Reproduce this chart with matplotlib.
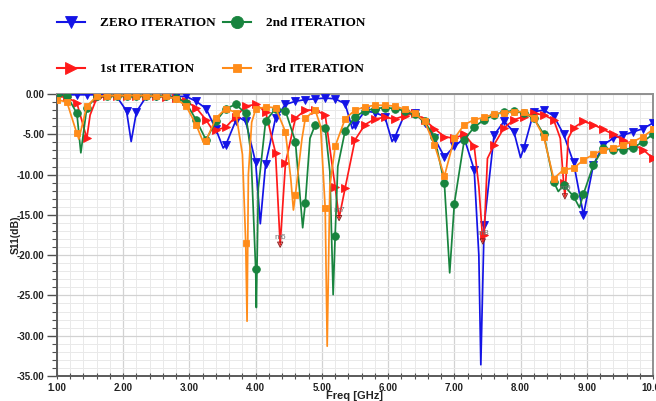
import matplotlib.pyplot as plt
import numpy as np
from matplotlib.lines import Line2D
from matplotlib.ticker import FormatStrFormatter, MultipleLocator

plt.rcParams["font.family"] = ["Liberation Sans", "DejaVu Sans"]

# frequency points where the solver placed a trace marker (every 0.15 GHz)
GRID_GHZ = np.round(1.0 + 0.15 * np.arange(61), 2)

# S11 (dB) of each iteration at the marker frequencies
zero_db = [-0.1, -0.1, -0.1, -0.1, -0.1, -0.1, -0.3, -2.1, -2.2, -0.3,
           -0.3, -0.3, -0.3, -0.3, -0.9, -1.8, -4.4, -6.3, -3.3, -3.4,
           -8.5, -8.7, -3.0, -1.3, -0.9, -0.7, -0.6, -0.5, -0.6, -1.2,
           -3.8, -2.1, -2.3, -2.8, -5.4, -2.5, -2.3, -3.6, -5.5, -7.8,
           -6.5, -5.5, -9.4, -16.3, -5.1, -3.4, -4.7, -6.7, -2.2, -2.0,
           -2.7, -5.0, -8.5, -15.0, -8.8, -6.3, -5.5, -5.1, -4.7, -4.3,
           -3.6]
first_db = [-0.3, -0.4, -1.1, -5.5, -0.5, -0.3, -0.3, -0.3, -0.3, -0.3,
            -0.3, -0.4, -0.5, -0.9, -1.7, -3.2, -4.5, -4.1, -2.8, -1.5,
            -1.3, -2.2, -7.3, -8.6, -3.0, -2.0, -2.0, -2.6, -11.5, -11.7,
            -5.7, -3.8, -3.1, -2.9, -3.1, -2.7, -2.4, -3.2, -4.3, -5.3,
            -5.5, -5.0, -6.5, -17.5, -6.3, -4.2, -3.2, -2.8, -2.4, -2.6,
            -3.2, -11.0, -4.2, -3.4, -3.8, -4.4, -5.0, -5.7, -6.3, -6.9,
            -8.0]
second_db = [-0.1, -0.2, -2.4, -1.7, -0.3, -0.2, -0.2, -0.2, -0.2, -0.2,
             -0.2, -0.3, -0.5, -1.1, -3.2, -5.7, -3.4, -1.8, -1.3, -2.4,
             -21.7, -3.4, -1.8, -2.1, -5.9, -13.5, -3.8, -4.2, -17.6, -4.6,
             -2.8, -2.1, -1.8, -1.7, -1.8, -2.1, -2.5, -3.4, -5.3, -11.1,
             -13.6, -5.7, -4.1, -3.2, -2.6, -2.2, -2.1, -2.4, -3.0, -5.0,
             -10.9, -11.3, -12.7, -12.4, -8.8, -6.7, -6.9, -6.9, -6.7, -5.9,
             -5.0]
third_db = [-0.7, -1.0, -4.9, -1.5, -0.3, -0.2, -0.2, -0.2, -0.2, -0.2,
            -0.3, -0.3, -0.6, -1.5, -3.8, -5.8, -3.0, -1.8, -2.3, -18.5,
            -1.9, -1.6, -1.7, -4.7, -12.5, -3.0, -2.0, -14.2, -6.5, -3.1,
            -2.0, -1.6, -1.4, -1.4, -1.5, -1.9, -2.4, -3.4, -6.3, -10.2,
            -5.5, -3.8, -3.2, -2.9, -2.5, -2.3, -2.2, -2.2, -3.0, -5.3,
            -10.5, -9.4, -9.2, -8.2, -7.5, -6.9, -6.7, -6.3, -5.9, -5.3,
            -4.4]

# extra sweep points between markers (resonance dips)
zero_dip_ghz = [2.12, 3.51, 3.77, 4.07, 5.46, 6.06, 7.37, 7.40, 8.00]
zero_dip_db = [-5.9, -6.7, -3.0, -16.1, -4.3, -5.9, -20.0, -33.6, -7.9]
first_dip_ghz = [1.50, 3.36, 4.37, 5.26, 7.37, 7.43, 7.50, 8.60, 8.67, 8.72]
first_dip_db = [-2.6, -4.6, -18.7, -15.4, -11.5, -18.3, -8.0, -5.5, -12.7, -5.5]
second_dip_ghz = [1.36, 3.93, 4.01, 4.04, 4.71, 4.82, 5.12, 5.17, 5.24, 6.93, 8.57, 8.89]
second_dip_db = [-7.3, -7.5, -26.5, -11.7, -16.6, -5.5, -9.6, -24.9, -9.0, -22.2, -12.1, -14.1]
third_dip_ghz = [1.33, 3.21, 3.80, 3.87, 3.89, 3.94, 4.53, 4.57, 4.70, 4.98, 5.08, 5.12]
third_dip_db = [-5.6, -6.0, -7.5, -28.2, -10.0, -3.5, -10.5, -14.4, -5.5, -4.0, -31.3, -11.5]

# HFSS marker readouts
marker_names = ["m6", "m7", "m8", "m9"]
marker_ghz = [4.37, 5.26, 7.43, 8.67]
marker_db = [-18.7, -15.4, -18.3, -12.7]


def build_trace(grid_db, dip_ghz, dip_db):
    freq = np.concatenate([GRID_GHZ, dip_ghz])
    s11 = np.concatenate([grid_db, dip_db])
    marked = np.concatenate([np.ones(len(GRID_GHZ), bool), np.zeros(len(dip_ghz), bool)])
    order = np.argsort(freq, kind="stable")
    return freq[order], s11[order], marked[order]


traces = [
    ("ZERO ITERATION", zero_db, zero_dip_ghz, zero_dip_db, "#1414e6", "v", 5.5),
    ("1st ITERATION", first_db, first_dip_ghz, first_dip_db, "#ff1a1a", ">", 5.5),
    ("2nd ITERATION", second_db, second_dip_ghz, second_dip_db, "#18843e", "o", 5.5),
    ("3rd ITERATION", third_db, third_dip_ghz, third_dip_db, "#ff8c1a", "s", 4.0),
]

fig = plt.figure(figsize=(6.56, 4.01), dpi=100)
ax = fig.add_axes([57 / 656, 25 / 401, 596 / 656, 282 / 401])

handles = {}
for name, grid_db, dip_f, dip_db, color, marker, ms in traces:
    f, v, marked = build_trace(grid_db, dip_f, dip_db)
    ax.plot(f, v, color=color, lw=1.25, marker=marker, ms=ms, markevery=list(marked),
            markeredgewidth=0.6, zorder=3)
    handles[name] = Line2D([0], [0], color=color, lw=1.5, marker=marker,
                           ms=ms * 1.6, markeredgewidth=0.6)

# marker readouts
ax.scatter(marker_ghz, marker_db, marker="v", s=14, facecolor="none",
           edgecolor="#8a1c1c", linewidth=0.7, zorder=4)
for name, f, v in zip(marker_names, marker_ghz, marker_db):
    ax.annotate(name, (f, v), xytext=(0, 3), textcoords="offset points",
                ha="center", va="bottom", fontsize=6, color="#707070", zorder=5)

ax.set_xlim(1, 10)
ax.set_ylim(-35, 0)
ax.xaxis.set_major_locator(MultipleLocator(1))
ax.xaxis.set_minor_locator(MultipleLocator(0.2))
ax.yaxis.set_major_locator(MultipleLocator(5))
ax.yaxis.set_minor_locator(MultipleLocator(1))
ax.xaxis.set_major_formatter(FormatStrFormatter("%.2f"))
ax.yaxis.set_major_formatter(FormatStrFormatter("%.2f"))

ax.grid(which="major", color="#d2d2d2", lw=0.9)
ax.grid(which="minor", color="#e9e9e9", lw=0.7)
ax.set_axisbelow(True)

for side in ["left", "bottom"]:
    ax.spines[side].set_color("#5a5a5a")
    ax.spines[side].set_linewidth(1.4)
for side in ["top", "right"]:
    ax.spines[side].set_color("#909090")
    ax.spines[side].set_linewidth(1.4)

ax.tick_params(axis="y", which="major", direction="out", length=7, width=1, color="#505050", pad=2)
ax.tick_params(axis="y", which="minor", direction="out", length=3.5, width=0.8, color="#505050")
ax.tick_params(axis="x", which="both", direction="inout", length=4, width=0.8, color="#505050", pad=3)
for lab in ax.get_xticklabels() + ax.get_yticklabels():
    lab.set_fontsize(7)
    lab.set_fontweight("bold")
    lab.set_color("#222222")

ax.set_ylabel("S11(dB)", fontsize=7.5, fontweight="bold", color="#222222", labelpad=-3)
ax.set_xlabel("Freq [GHz]", fontsize=8, fontweight="bold", color="#222222", labelpad=-1.5)

order = ["ZERO ITERATION", "1st ITERATION", "2nd ITERATION", "3rd ITERATION"]
fig.legend([handles[n] for n in order], order, ncol=2, loc="upper left",
           bbox_to_anchor=(0.087, 0.957), frameon=False, borderpad=0, borderaxespad=0,
           handlelength=2.1, handletextpad=1.15, columnspacing=0.6, labelspacing=2.55,
           prop={"family": "Liberation Serif", "weight": "bold", "size": 9.5})

fig.savefig("out.png", dpi=100)
